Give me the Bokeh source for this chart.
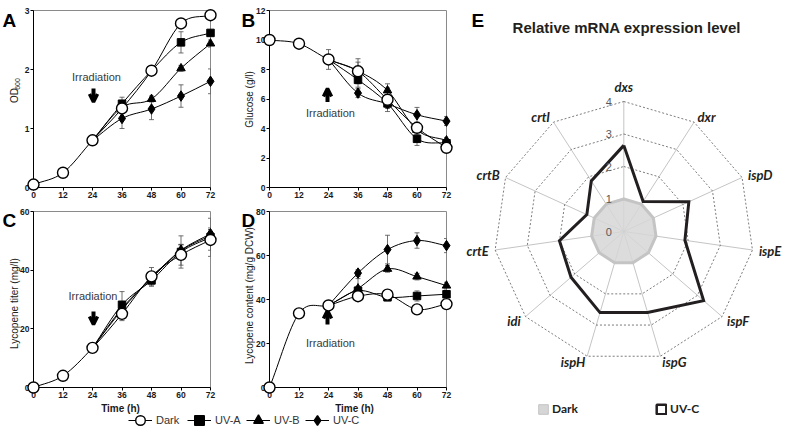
import numpy as np
from bokeh.plotting import figure
from bokeh.models import (Range1d, FixedTicker, Arrow, OpenHead, Whisker,
                          TeeHead, ColumnDataSource, Legend, LegendItem)
from bokeh.core.properties import value
from bokeh.layouts import row, column
from bokeh.embed import file_html
from bokeh.resources import INLINE

# ---------------- data ----------------
hours = [0, 12, 24, 36, 48, 60, 72]
hours_uv = [24, 36, 48, 60, 72]          # UV series start at the irradiation point (24 h)
x_ticks = [0, 12, 24, 36, 48, 60, 72]

# A: OD600
od_dark = [0.05, 0.25, 0.80, 1.34, 1.98, 2.78, 2.92]
od_dark_err = [0, 0, 0, 0.08, 0.05, 0.05, 0.04]
od_uva = [0.80, 1.42, 1.98, 2.46, 2.62]
od_uva_err = [0, 0.11, 0.06, 0.18, 0.05]
od_uvb = [0.80, 1.36, 1.50, 2.02, 2.44]
od_uvb_err = [0, 0.06, 0.05, 0.05, 0.06]
od_uvc = [0.80, 1.17, 1.33, 1.55, 1.80]
od_uvc_err = [0, 0.17, 0.18, 0.19, 0.21]
od_ticks = [0, 1, 2, 3]

# B: glucose (g/l)
glc_dark = [10.0, 9.75, 8.68, 7.88, 5.95, 4.05, 2.69]
glc_dark_err = [0, 0, 0.67, 0.85, 0.80, 0.30, 0.20]
glc_uva = [8.68, 7.30, 5.70, 3.30, 3.00]
glc_uva_err = [0, 0.50, 0.30, 0.45, 0.20]
glc_uvb = [8.68, 7.90, 6.58, 3.90, 3.19]
glc_uvb_err = [0, 0.60, 0.45, 0.30, 0.20]
glc_uvc = [8.68, 6.40, 5.67, 4.93, 4.50]
glc_uvc_err = [0, 0.30, 0.30, 0.50, 0.30]
glc_ticks = [0, 2, 4, 6, 8, 10, 12]

# C: lycopene titer (mg/l)
tit_dark = [0.0, 4.0, 13.5, 25.1, 37.9, 45.2, 50.3]
tit_dark_err = [0, 0, 0, 2.3, 3.0, 3.5, 3.5]
tit_uva = [13.5, 28.2, 36.5, 46.2, 51.2]
tit_uva_err = [0, 4.5, 2.0, 5.5, 6.5]
tit_uvb = [13.5, 27.0, 37.2, 46.6, 51.8]
tit_uvb_err = [0, 1.5, 1.5, 2.0, 2.0]
tit_uvc = [13.5, 26.5, 37.5, 46.8, 52.4]
tit_uvc_err = [0, 1.5, 1.5, 2.0, 2.0]
tit_ticks = [0, 20, 40, 60]

# D: lycopene content (mg/g DCW)
cont_dark = [0.0, 33.7, 37.3, 41.5, 42.2, 35.5, 37.9]
cont_dark_err = [0, 0, 0, 1.5, 1.5, 1.5, 1.5]
cont_uva = [37.3, 44.0, 41.0, 41.6, 42.4]
cont_uva_err = [0, 2.0, 1.5, 2.3, 1.5]
cont_uvb = [37.3, 45.0, 53.9, 50.4, 46.3]
cont_uvb_err = [0, 4.5, 1.5, 1.5, 1.5]
cont_uvc = [37.3, 52.0, 62.7, 66.8, 64.5]
cont_uvc_err = [0, 1.5, 6.5, 3.5, 3.2]
cont_ticks = [0, 20, 40, 60, 80]

# E: relative mRNA expression (radar)
genes = ["dxs", "dxr", "ispD", "ispE", "ispF", "ispG", "ispH", "idi", "crtE", "crtB", "crtI"]
rna_dark = [1.0, 1.0, 1.0, 1.0, 1.0, 1.0, 1.0, 1.0, 1.0, 1.0, 1.0]
rna_uvc = [2.65, 1.10, 2.20, 1.90, 3.25, 2.60, 2.60, 2.15, 2.00, 1.25, 1.85]
ring_levels = [0, 1, 2, 3, 4]

FONT = "Liberation Sans"
FW = 177  # frame width in px


def make_panel(width, height, bl, br, bt, bb, ymax, yticks):
    p = figure(width=width, height=height, x_range=Range1d(0, 72), y_range=Range1d(0, ymax),
               output_backend="svg", toolbar_location=None,
               min_border_left=bl, min_border_right=br, min_border_top=bt, min_border_bottom=bb)
    p.xgrid.visible = False
    p.ygrid.visible = False
    p.xaxis.ticker = FixedTicker(ticks=x_ticks)
    p.yaxis.ticker = FixedTicker(ticks=yticks)
    for ax in p.axis:
        ax.major_tick_out = 3
        ax.major_tick_in = 0
        ax.minor_tick_out = 0
        ax.minor_tick_in = 0
        ax.axis_line_color = "black"
        ax.major_tick_line_color = "black"
        ax.major_label_text_font = FONT
        ax.major_label_text_font_style = "bold"
        ax.major_label_text_font_size = "8.5px"
        ax.major_label_text_color = "#1a1a1a"
        ax.major_label_standoff = 1
    p.outline_line_color = "#8a8a8a"
    p.outline_line_width = 1
    return p


def curve(p, xs, ys, **kw):
    xs = np.asarray(xs, float)
    ys = np.asarray(ys, float)
    px = np.concatenate([[2 * xs[0] - xs[1]], xs, [2 * xs[-1] - xs[-2]]])
    py = np.concatenate([[2 * ys[0] - ys[1]], ys, [2 * ys[-1] - ys[-2]]])
    tx = (px[2:] - px[:-2]) / 2
    ty = (py[2:] - py[:-2]) / 2
    p.bezier(x0=xs[:-1], y0=ys[:-1], x1=xs[1:], y1=ys[1:],
             cx0=xs[:-1] + tx[:-1] / 3, cy0=ys[:-1] + ty[:-1] / 3,
             cx1=xs[1:] - tx[1:] / 3, cy1=ys[1:] - ty[1:] / 3, **kw)


def errbars(p, xs, ys, es):
    b = [x for x, e in zip(xs, es) if e > 0]
    u = [y + e for y, e in zip(ys, es) if e > 0]
    lo = [y - e for y, e in zip(ys, es) if e > 0]
    if not b:
        return
    src = ColumnDataSource(dict(base=b, upper=u, lower=lo))
    col = "#4d4d4d"
    p.add_layout(Whisker(source=src, base="base", upper="upper", lower="lower",
                         line_color=col, line_width=0.8,
                         upper_head=TeeHead(size=5, line_color=col, line_width=0.8),
                         lower_head=TeeHead(size=5, line_color=col, line_width=0.8)))


UV_MARKERS = [("square", 7.5), ("triangle", 8.5), ("diamond", 10.5)]


def draw_series(p, dark, dark_err, uvs):
    curve(p, hours, dark, line_color="black", line_width=1)
    for vals, _ in uvs:
        curve(p, hours_uv, vals, line_color="black", line_width=1)
    errbars(p, hours, dark, dark_err)
    for vals, err in uvs:
        errbars(p, hours_uv, vals, err)
    for (vals, _), (mk, sz) in zip(uvs, UV_MARKERS):
        p.scatter(hours_uv[1:], vals[1:], marker=mk, size=sz, fill_color="black",
                  line_color="black", level="overlay")
    p.scatter(hours, dark, marker="circle", size=11, fill_color="white", line_color="black",
              line_width=1.4, level="overlay")


def at(g, px, py):
    return ((px - g["left"]) / FW * 72.0, (g["top"] + g["h"] - py) / g["h"] * g["ymax"])


def label(p, g, px, py, text, size, style="normal", color="#222222", angle=0.0,
          align="center", baseline="middle", font=FONT):
    x, y = at(g, px, py)
    p.text(x=[x], y=[y], text=[text], text_font=value(font), text_font_size=f"{size}px",
           text_font_style=style, text_color=color, angle=angle,
           text_align=align, text_baseline=baseline, level="overlay")


def arrow(p, g, px, py_tail, py_tip):
    x, y0 = at(g, px, py_tail)
    _, y1 = at(g, px, py_tip)
    p.add_layout(Arrow(x_start=x, y_start=y0, x_end=x, y_end=y1, line_width=4, line_color="black",
                       end=OpenHead(size=8, line_width=3.5, line_color="black")))


# page geometry of each plot frame (page px; page origin is the top-left of the window)
gA = dict(left=33, top=10, h=177, ymax=3)
gB = dict(left=269, top=10, h=177, ymax=12)
gC = dict(left=33, top=211, h=176, ymax=60)
gD = dict(left=269, top=211, h=176, ymax=80)

# ---------------- A ----------------
pA = make_panel(240, 207, 33, 30, 10, 20, 3, od_ticks)
draw_series(pA, od_dark, od_dark_err,
            [(od_uva, od_uva_err), (od_uvb, od_uvb_err), (od_uvc, od_uvc_err)])
label(pA, gA, 2, 20, "A", 19, "bold", "black", align="left", baseline="alphabetic")
label(pA, gA, 13.5, 95, "OD", 10, angle=np.pi / 2)
label(pA, gA, 16.5, 83.5, "600", 7, angle=np.pi / 2)
label(pA, gA, 96, 76, "Irradiation", 11, color="#3a3a3a")
arrow(pA, gA, 93, 88, 101.5)

# ---------------- B ----------------
pB = make_panel(215, 207, 29, 9, 10, 20, 12, glc_ticks)
draw_series(pB, glc_dark, glc_dark_err,
            [(glc_uva, glc_uva_err), (glc_uvb, glc_uvb_err), (glc_uvc, glc_uvc_err)])
label(pB, gB, 241, 20, "B", 19, "bold", "black", align="left", baseline="alphabetic")
label(pB, gB, 248.5, 99, "Glucose (g/l)", 10, angle=np.pi / 2)
label(pB, gB, 330, 112, "Irradiation", 11, color="#3a3a3a")
arrow(pB, gB, 327, 101.5, 88)

# ---------------- C ----------------
pC = make_panel(240, 207, 33, 30, 4, 27, 60, tit_ticks)
draw_series(pC, tit_dark, tit_dark_err,
            [(tit_uva, tit_uva_err), (tit_uvb, tit_uvb_err), (tit_uvc, tit_uvc_err)])
label(pC, gC, 2, 220, "C", 19, "bold", "black", align="left", baseline="alphabetic")
label(pC, gC, 13.5, 303, "Lycopene titer (mg/l)", 10, angle=np.pi / 2)
label(pC, gC, 92.5, 295, "Irradiation", 11, color="#3a3a3a")
arrow(pC, gC, 93, 311, 324)
label(pC, gC, 120, 407.5, "Time (h)", 10, "bold", "#1a1a1a")

# ---------------- D ----------------
pD = make_panel(215, 207, 29, 9, 4, 27, 80, cont_ticks)
draw_series(pD, cont_dark, cont_dark_err,
            [(cont_uva, cont_uva_err), (cont_uvb, cont_uvb_err), (cont_uvc, cont_uvc_err)])
label(pD, gD, 241, 220, "D", 19, "bold", "black", align="left", baseline="alphabetic")
label(pD, gD, 248.5, 295, "Lycopene content (mg/g DCW)", 10, angle=np.pi / 2)
label(pD, gD, 330, 342, "Irradiation", 11, color="#3a3a3a")
arrow(pD, gD, 327, 324, 310)
label(pD, gD, 354, 407.5, "Time (h)", 10, "bold", "#1a1a1a")

# ---------------- legend row ----------------
pL = figure(width=455, height=24, x_range=Range1d(0, 1), y_range=Range1d(0, 1),
            output_backend="svg", toolbar_location=None, min_border=0,
            x_axis_type=None, y_axis_type=None)
pL.outline_line_color = None
items = []
leg_markers = [("circle", "white"), ("square", "black"), ("triangle", "black"), ("diamond", "black")]
for name, (mk, fc) in zip(["Dark", "UV-A", "UV-B", "UV-C"], leg_markers):
    rl = pL.line(x=[np.nan], y=[np.nan], line_color="black", line_width=1)
    rs = pL.scatter(x=[np.nan], y=[np.nan], marker=mk, fill_color=fc, line_color="black",
                    line_width=1.4)
    items.append(LegendItem(label=name, renderers=[rl, rs]))
legL = Legend(items=items, orientation="horizontal", location=(128, 6),
              glyph_width=24, glyph_height=24, label_standoff=4, label_width=28, spacing=3,
              padding=0, margin=0, border_line_alpha=0, background_fill_alpha=0,
              label_text_font=FONT, label_text_font_size="11px", label_text_color="#333333")
pL.add_layout(legL)

# ---------------- E: radar ----------------
S = 32.5             # px per unit
WE, HE = 332, 438
CX, CY = 168.3, 231  # centre inside figure (px from left / top)
pE = figure(width=WE, height=HE, x_range=Range1d(-CX / S, (WE - CX) / S),
            y_range=Range1d(-(HE - CY) / S, CY / S), output_backend="svg",
            toolbar_location=None, min_border=0, x_axis_type=None, y_axis_type=None)
pE.outline_line_color = None

n = len(genes)
ang = np.arange(n) * 2 * np.pi / n
ux, uy = np.sin(ang), np.cos(ang)
rmax = ring_levels[-1]

pE.segment(x0=np.zeros(n), y0=np.zeros(n), x1=rmax * ux, y1=rmax * uy,
           line_color="#b5b5b5", line_width=0.8)
for k in ring_levels[1:]:
    pE.line(x=list(k * ux) + [k * ux[0]], y=list(k * uy) + [k * uy[0]],
            line_color="#5a5a5a", line_width=0.8, line_dash="2 2")

rd = np.asarray(rna_dark)
pE.patch(x=rd * ux, y=rd * uy, fill_color="#d6d6d6", fill_alpha=0.85,
         line_color="#c4c4c4", line_width=3)
ru = np.asarray(rna_uvc)
pE.line(x=list(ru * ux) + [ru[0] * ux[0]], y=list(ru * uy) + [ru[0] * uy[0]],
        line_color="#231f20", line_width=3, line_join="miter")

pE.text(x=[-15 / S] * len(ring_levels), y=ring_levels, text=[str(k) for k in ring_levels],
        text_font=value(FONT), text_font_size="11px", text_color="#595959",
        text_align="center", text_baseline="middle", level="overlay")

RL = 4.2
for g, sx, sy in zip(genes, ux, uy):
    if abs(sx) < 0.01:
        al, bl = "center", "bottom"
    elif sx > 0:
        al, bl = "left", "middle"
    else:
        al, bl = "right", "middle"
    pE.text(x=[RL * sx], y=[RL * sy], text=[g], text_font=value("Lato"), text_font_size="13px",
            text_font_style="bold italic", text_color="#231f20",
            text_align=al, text_baseline=bl, level="overlay")

pE.text(x=[3 / S], y=[(CY - 26.5) / S], text=["Relative mRNA expression level"],
        text_font=value(FONT), text_font_size="15px", text_font_style="bold",
        text_color="#231f20", text_align="center", text_baseline="middle", level="overlay")
pE.text(x=[-(CX - 16) / S], y=[(CY - 20) / S], text=["E"], text_font=value(FONT),
        text_font_size="19px", text_font_style="bold", text_color="black",
        text_align="left", text_baseline="alphabetic", level="overlay")

qd = pE.quad(left=[np.nan], right=[np.nan], top=[np.nan], bottom=[np.nan],
             fill_color="#d6d6d6", line_color="#c4c4c4", line_width=1)
qu = pE.quad(left=[np.nan], right=[np.nan], top=[np.nan], bottom=[np.nan],
             fill_color="white", line_color="#231f20", line_width=2.5)
legE = Legend(items=[LegendItem(label="Dark", renderers=[qd]),
                     LegendItem(label="UV-C", renderers=[qu])],
              orientation="horizontal", location=(82, 22), glyph_width=12, glyph_height=12,
              label_standoff=3, label_width=100, spacing=3, padding=0, margin=0,
              border_line_alpha=0, background_fill_alpha=0, label_text_font="Lato",
              label_text_font_style="bold", label_text_font_size="12px",
              label_text_color="#231f20")
pE.add_layout(legE)

layout = row(column(row(pA, pB), row(pC, pD), pL), pE)
open("out.html", "w").write(file_html(layout, INLINE))
